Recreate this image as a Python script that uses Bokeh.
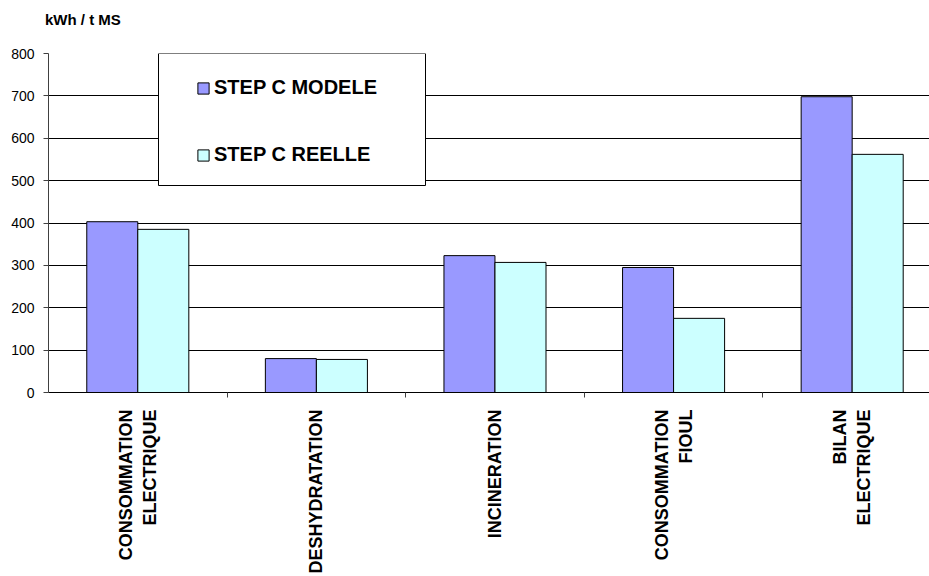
from bokeh.plotting import figure
from bokeh.models import ColumnDataSource, FixedTicker, Legend, LegendItem, Range1d, BoxAnnotation, Div
from bokeh.layouts import column
from bokeh.embed import file_html
from bokeh.resources import INLINE
import math

title_text = "kWh / t MS"
categories = ["CONSOMMATION\nELECTRIQUE", "DESHYDRATATION", "INCINERATION",
              "CONSOMMATION\nFIOUL", "BILAN\nELECTRIQUE"]
modele = [403, 80, 323, 295, 698]
reelle = [385, 78, 307, 175, 562]
series_names = ["STEP C MODELE", "STEP C REELLE"]
colors = ["#9999FF", "#CCFFFF"]
y_ticks = [0, 100, 200, 300, 400, 500, 600, 700, 800]

n = len(categories)
centers = [i + 0.5 for i in range(n)]
bw = 2 / 7.0

src = ColumnDataSource(dict(
    xm=[c - bw / 2 for c in centers],
    xr=[c + bw / 2 for c in centers],
    modele=modele, reelle=reelle))

title = Div(text=title_text, width=929, height=30, margin=0,
            styles={"font-family": "Liberation Sans", "font-size": "15px",
                    "font-weight": "bold", "color": "black",
                    "padding-left": "45px", "padding-top": "11px",
                    "line-height": "18px", "box-sizing": "border-box"})

p = figure(width=929, height=546, output_backend="svg", toolbar_location=None,
           x_range=Range1d(0, 4.933), y_range=Range1d(0, 800),
           min_border_left=48, min_border_right=0, min_border_top=23,
           min_border_bottom=184, margin=0)
p.outline_line_color = None

r1 = p.vbar(x="xm", top="modele", width=bw, source=src, fill_color=colors[0],
            line_color="black", line_width=1)
r2 = p.vbar(x="xr", top="reelle", width=bw, source=src, fill_color=colors[1],
            line_color="black", line_width=1)

# axes
p.yaxis.ticker = FixedTicker(ticks=y_ticks)
p.yaxis.major_label_text_font = "Liberation Sans"
p.yaxis.major_label_text_font_size = "14px"
p.yaxis.major_label_text_color = "black"
p.yaxis.axis_line_color = "#404040"
p.yaxis.major_tick_line_color = "#404040"
p.yaxis.major_tick_out = 5
p.yaxis.major_tick_in = 0
p.yaxis.minor_tick_line_color = None
p.yaxis.major_label_standoff = 9

p.xaxis.ticker = FixedTicker(ticks=centers, minor_ticks=[1, 2, 3, 4])
p.xaxis.major_label_overrides = {c: lab for c, lab in zip(centers, categories)}
p.xaxis.major_label_orientation = math.pi / 2
p.xaxis.major_label_text_font = "Liberation Sans"
p.xaxis.major_label_text_font_style = "bold"
p.xaxis.major_label_text_font_size = "18px"
p.xaxis.major_label_text_color = "black"
p.xaxis.major_tick_line_color = None
p.xaxis.minor_tick_line_color = "#404040"
p.xaxis.minor_tick_out = 5
p.xaxis.minor_tick_in = 0
p.xaxis.axis_line_color = "black"
p.xaxis.major_label_standoff = 11

p.xgrid.grid_line_color = None
p.ygrid.ticker = FixedTicker(ticks=y_ticks)
p.ygrid.grid_line_color = "black"
p.ygrid.grid_line_width = 1

# legend frame
box = BoxAnnotation(left=158, right=425, top=23, bottom=155,
                    left_units="canvas", right_units="canvas",
                    top_units="canvas", bottom_units="canvas",
                    fill_color="white", fill_alpha=1,
                    line_color="black", line_width=1, line_alpha=1)
p.add_layout(box)

legend = Legend(items=[LegendItem(label=series_names[0], renderers=[r1]),
                       LegendItem(label=series_names[1], renderers=[r2])],
                location=(148, 226))
legend.label_text_font = "Liberation Sans"
legend.label_text_font_style = "bold"
legend.label_text_font_size = "20px"
legend.label_text_color = "black"
legend.glyph_width = 14
legend.glyph_height = 14
legend.label_height = 14
legend.label_standoff = 4
legend.padding = 0
legend.spacing = 44
legend.margin = 0
legend.border_line_color = None
legend.background_fill_alpha = 0
p.add_layout(legend, "center")

layout = column(title, p, spacing=0, margin=0)
open("out.html", "w").write(file_html(layout, INLINE))
